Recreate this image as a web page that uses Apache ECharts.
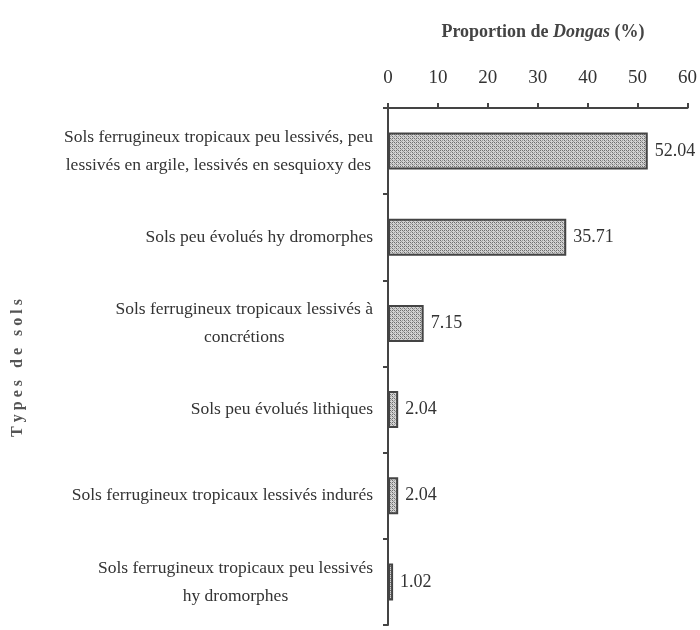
<!DOCTYPE html>
<html>
<head>
<meta charset="utf-8">
<script src="https://cdn.jsdelivr.net/npm/echarts@6/dist/echarts.min.js"></script>
<style>
  html, body { margin: 0; padding: 0; background: #fff; }
  #chart { width: 700px; height: 630px; }
</style>
</head>
<body>
<div id="chart"></div>
<script>
var categories = [
  'Sols ferrugineux tropicaux peu lessivés, peu\nlessivés en argile, lessivés en sesquioxy des',
  'Sols peu évolués hy dromorphes',
  'Sols ferrugineux tropicaux lessivés à\nconcrétions',
  'Sols peu évolués lithiques',
  'Sols ferrugineux tropicaux lessivés indurés',
  'Sols ferrugineux tropicaux peu lessivés\nhy dromorphes'
]
var values = [52.04, 35.71, 7.15, 2.04, 2.04, 1.02]
var xTicks = [0, 10, 20, 30, 40, 50, 60]

// dotted grey fill like the scanned figure
function makePattern() {
  var c = document.createElement('canvas')
  c.width = 4
  c.height = 4
  var ctx = c.getContext('2d')
  ctx.fillStyle = '#d2d2d2'
  ctx.fillRect(0, 0, 4, 4)
  ctx.fillStyle = '#6e6e6e'
  ctx.fillRect(0, 0, 1, 1)
  ctx.fillRect(2, 2, 1, 1)
  ctx.fillRect(0, 2, 1, 1)
  ctx.fillStyle = '#999'
  ctx.fillRect(2, 0, 1, 1)
  ctx.fillRect(1, 1, 1, 1)
  ctx.fillRect(3, 3, 1, 1)
  return c
}

var chart = echarts.init(document.getElementById('chart'))
var serif = 'Liberation Serif'

chart.setOption({
  animation: false,
  title: {
    text: '{b|Proportion de }{i|Dongas}{b| (%)}',
    left: 538,
    top: 18,
    textAlign: 'center',
    textStyle: {
      rich: {
        b: { fontFamily: serif, fontSize: 18, fontWeight: 'bold', color: '#444' },
        i: { fontFamily: serif, fontSize: 18, fontStyle: 'italic', color: '#444' }
      }
    }
  },
  graphic: [{
    type: 'text',
    x: 18,
    y: 368,
    rotation: Math.PI / 2,
    style: {
      text: 'T y p e s   d e   s o l s',
      fontFamily: serif,
      fontSize: 16,
      fontWeight: 'bold',
      fill: '#555',
      align: 'center',
      verticalAlign: 'middle'
    }
  }],
  grid: {
    left: 388,
    right: 12,
    top: 108,
    bottom: 5
  },
  xAxis: {
    type: 'value',
    position: 'top',
    min: 0,
    max: 60,
    interval: 10,
    splitLine: { show: false },
    axisLine: { show: true, lineStyle: { color: '#444', width: 2 } },
    axisTick: { show: true, length: 5, lineStyle: { color: '#444', width: 2 } },
    axisLabel: {
      margin: 20,
      fontFamily: serif,
      fontSize: 19,
      color: '#333',
      formatter: function (v) { return xTicks.indexOf(v) >= 0 ? String(v) : '' }
    }
  },
  yAxis: {
    type: 'category',
    inverse: true,
    data: categories,
    axisLine: { show: true, lineStyle: { color: '#444', width: 2 } },
    axisTick: { show: true, length: 5, lineStyle: { color: '#444', width: 2 } },
    axisLabel: {
      margin: 15,
      formatter: function (v) { return '{c|' + v + '}' },
      rich: {
        c: { fontFamily: serif, fontSize: 17.5, color: '#333', align: 'center', lineHeight: 28 }
      }
    }
  },
  series: [{
    type: 'bar',
    data: values,
    barWidth: 37,
    itemStyle: {
      color: { image: makePattern(), repeat: 'repeat' },
      borderColor: '#444',
      borderWidth: 2
    },
    label: {
      show: true,
      position: 'right',
      distance: 7,
      fontFamily: serif,
      fontSize: 18,
      color: '#333',
      formatter: function (p) { return p.value.toFixed(2) }
    }
  }]
})
</script>
</body>
</html>
